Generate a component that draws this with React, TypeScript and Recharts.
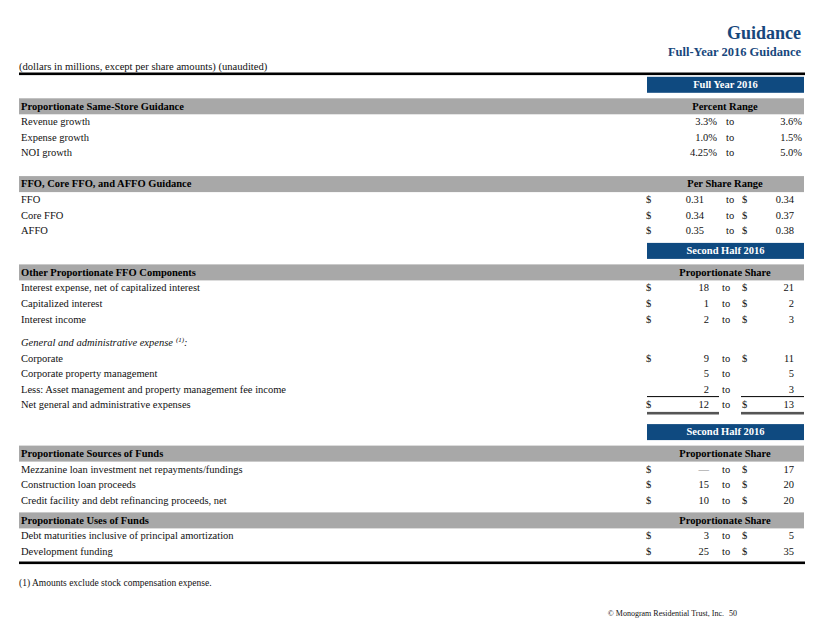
import React from 'react';
import { ScatterChart, Scatter, XAxis, YAxis, Customized } from 'recharts';

// ---------- data ----------
const columnHeaders = ['Full Year 2016', 'Second Half 2016', 'Second Half 2016'];
const sectionTitles = [
  'Proportionate Same-Store Guidance',
  'FFO, Core FFO, and AFFO Guidance',
  'Other Proportionate FFO Components',
  'Proportionate Sources of Funds',
  'Proportionate Uses of Funds',
];
const rangeLabels = ['Percent Range', 'Per Share Range', 'Proportionate Share', 'Proportionate Share', 'Proportionate Share'];

const sameStoreLabels = ['Revenue growth', 'Expense growth', 'NOI growth'];
const sameStoreLow = [3.3, 1.0, 4.25];
const sameStoreHigh = [3.6, 1.5, 5.0];

const ffoLabels = ['FFO', 'Core FFO', 'AFFO'];
const ffoLow = [0.31, 0.34, 0.35];
const ffoHigh = [0.34, 0.37, 0.38];

const otherLabels = ['Interest expense, net of capitalized interest', 'Capitalized interest', 'Interest income'];
const otherLow = [18, 1, 2];
const otherHigh = [21, 2, 3];

const gaTitle = 'General and administrative expense';
const gaLabels = [
  'Corporate',
  'Corporate property management',
  'Less: Asset management and property management fee income',
  'Net general and administrative expenses',
];
const gaLow = [9, 5, 2, 12];
const gaHigh = [11, 5, 3, 13];
const gaCurrency = [true, false, false, true];

const sourcesLabels = [
  'Mezzanine loan investment net repayments/fundings',
  'Construction loan proceeds',
  'Credit facility and debt refinancing proceeds, net',
];
const sourcesLow = [0, 15, 10];
const sourcesHigh = [17, 20, 20];

const usesLabels = ['Debt maturities inclusive of principal amortization', 'Development funding'];
const usesLow = [3, 25];
const usesHigh = [5, 35];

const pageTitle = 'Guidance';
const pageSubtitle = 'Full-Year 2016 Guidance';
const unitsNote = '(dollars in millions, except per share amounts) (unaudited)';
const footnote = '(1)  Amounts exclude stock compensation expense.';
const copyright = '© Monogram Residential Trust, Inc.';
const pageNumber = '50';

// ---------- layout / styling ----------
const W = 822;
const H = 635;
const FONT = '"Liberation Serif", "Times New Roman", serif';
const BLUE = '#0f4a80';
const GRAY = '#a8a8a8';
const LEFT = 19;
const RIGHT = 804;
const COL_L = 647;

type Kind = 'blue' | 'header' | 'item' | 'sub' | 'total' | 'rule';
type Row = {
  kind: Kind;
  label?: string;
  right?: string;
  low?: number;
  high?: number;
  fmt?: 'pct' | 'ps' | 'usd';
  currency?: boolean;
  blank?: boolean;
  x: number;
  y: number;
};

const fmtPct = (v: number) => (Math.round(v * 100) % 10 !== 0 ? v.toFixed(2) : v.toFixed(1)) + '%';
const fmtVal = (v: number, f: string) => {
  if (f === 'pct') return fmtPct(v);
  if (f === 'ps') return v.toFixed(2);
  return v === 0 ? '—' : String(v);
};

function buildRows(): Row[] {
  const rows: Omit<Row, 'x' | 'y'>[] = [];
  const items = (labels: string[], lo: number[], hi: number[], fmt: 'pct' | 'ps' | 'usd', cur?: boolean[]) =>
    labels.forEach((l, i) =>
      rows.push({ kind: 'item', label: l, low: lo[i], high: hi[i], fmt, currency: cur ? cur[i] : fmt !== 'pct' })
    );
  rows.push({ kind: 'blue', label: columnHeaders[0] });
  rows.push({ kind: 'header', label: sectionTitles[0], right: rangeLabels[0] });
  items(sameStoreLabels, sameStoreLow, sameStoreHigh, 'pct');
  rows.push({ kind: 'header', label: sectionTitles[1], right: rangeLabels[1], blank: true });
  items(ffoLabels, ffoLow, ffoHigh, 'ps');
  rows.push({ kind: 'blue', label: columnHeaders[1] });
  rows.push({ kind: 'header', label: sectionTitles[2], right: rangeLabels[2] });
  items(otherLabels, otherLow, otherHigh, 'usd');
  rows.push({ kind: 'sub', label: gaTitle });
  items(gaLabels, gaLow, gaHigh, 'usd', gaCurrency);
  rows[rows.length - 1].kind = 'total';
  rows.push({ kind: 'blue', label: columnHeaders[2] });
  rows.push({ kind: 'header', label: sectionTitles[3], right: rangeLabels[3] });
  items(sourcesLabels, sourcesLow, sourcesHigh, 'usd');
  rows.push({ kind: 'header', label: sectionTitles[4], right: rangeLabels[4] });
  items(usesLabels, usesLow, usesHigh, 'usd');
  rows.push({ kind: 'rule' });

  const out: Row[] = [];
  let y = 84.8;
  rows.forEach((r, i) => {
    if (i > 0) {
      const prev = rows[i - 1].kind;
      let g = 15.6;
      if (r.kind === 'header') g = prev === 'blue' ? 21.5 : r.blank ? 31 : 20;
      else if (r.kind === 'blue') g = prev === 'total' ? 27 : 20;
      else if (r.kind === 'sub') g = 23.5;
      else if (r.kind === 'rule') g = 11.2;
      y += g;
    }
    out.push({ ...r, x: LEFT, y });
  });
  return out;
}

const tableRows = buildRows();

const txt = (extra: any = {}) => ({ fontFamily: FONT, fontSize: 10.5, fill: '#111', dy: '0.32em', ...extra });

function RowShape(props: any) {
  const { cx, cy, payload } = props;
  const r: Row = payload;
  const x0 = cx;
  if (r.kind === 'blue') {
    return (
      <g>
        <rect x={COL_L} y={cy - 8} width={RIGHT - COL_L} height={16} fill={BLUE} />
        <text {...txt({ x: (COL_L + RIGHT) / 2, y: cy, textAnchor: 'middle', fill: '#fff', fontWeight: 'bold' })}>{r.label}</text>
      </g>
    );
  }
  if (r.kind === 'header') {
    return (
      <g>
        <rect x={x0} y={cy - 8} width={RIGHT - x0} height={16} fill={GRAY} />
        <text {...txt({ x: x0 + 2, y: cy, fontWeight: 'bold', fill: '#000' })}>{r.label}</text>
        <text {...txt({ x: 725, y: cy, textAnchor: 'middle', fontWeight: 'bold', fill: '#000' })}>{r.right}</text>
      </g>
    );
  }
  if (r.kind === 'sub') {
    return (
      <g>
        <text {...txt({ x: x0 + 2, y: cy, fontStyle: 'italic' })}>
          {r.label}
          <tspan fontSize={7} dy={-4} dx={3}>(1)</tspan>
          <tspan dy={4}>:</tspan>
        </text>
      </g>
    );
  }
  if (r.kind === 'rule') {
    return <rect x={x0} y={cy - 1.3} width={RIGHT + 1 - x0} height={2.6} fill="#000" />;
  }
  const f = r.fmt as string;
  const lowS = fmtVal(r.low as number, f);
  const highS = fmtVal(r.high as number, f);
  const lowR = f === 'pct' ? 717 : f === 'ps' ? 704 : 709;
  const toX = f === 'usd' ? 722 : 726;
  const highR = f === 'pct' ? 802 : 794;
  return (
    <g>
      <text {...txt({ x: x0 + 2, y: cy })}>{r.label}</text>
      {r.currency && <text {...txt({ x: 646, y: cy })}>$</text>}
      <text {...txt({ x: lowR, y: cy, textAnchor: 'end', fill: lowS === '—' ? '#888' : '#111' })}>{lowS}</text>
      <text {...txt({ x: toX, y: cy })}>to</text>
      {r.currency && <text {...txt({ x: 742, y: cy })}>$</text>}
      <text {...txt({ x: highR, y: cy, textAnchor: 'end' })}>{highS}</text>
      {r.kind === 'total' && (
        <g>
          <line x1={COL_L} x2={719} y1={cy - 8.5} y2={cy - 8.5} stroke="#000" strokeWidth={1} />
          <line x1={741} x2={RIGHT} y1={cy - 8.5} y2={cy - 8.5} stroke="#000" strokeWidth={1} />
          <rect x={COL_L} y={cy + 6.8} width={719 - COL_L} height={2.6} fill="#555" />
          <rect x={741} y={cy + 6.8} width={RIGHT - 741} height={2.6} fill="#555" />
        </g>
      )}
    </g>
  );
}

function PageChrome() {
  return (
    <g fontFamily={FONT}>
      <text x={801} y={38.5} textAnchor="end" fontSize={18} fontWeight="bold" fill="#17477c">{pageTitle}</text>
      <text x={801} y={56} textAnchor="end" fontSize={12.5} fontWeight="bold" fill="#17477c">{pageSubtitle}</text>
      <text x={19} y={70} fontSize={10.6} fill="#111">{unitsNote}</text>
      <rect x={19} y={72.5} width={786} height={2.6} fill="#000" />
      <text x={19} y={586} fontSize={9.5} fill="#111">{footnote}</text>
      <text x={724} y={615.5} textAnchor="end" fontSize={8} fill="#111">{copyright}</text>
      <text x={729} y={615.5} fontSize={8} fill="#111">{pageNumber}</text>
    </g>
  );
}

export default function App() {
  return (
    <div style={{ position: 'absolute', left: 0, top: 0, width: W, height: H, background: '#fff' }}>
      <ScatterChart width={W} height={H} margin={{ top: 0, right: 0, bottom: 0, left: 0 }}>
        <XAxis type="number" dataKey="x" domain={[0, W]} hide />
        <YAxis type="number" dataKey="y" domain={[0, H]} reversed hide />
        <Customized component={PageChrome} />
        <Scatter data={tableRows} shape={RowShape} isAnimationActive={false} />
      </ScatterChart>
    </div>
  );
}
